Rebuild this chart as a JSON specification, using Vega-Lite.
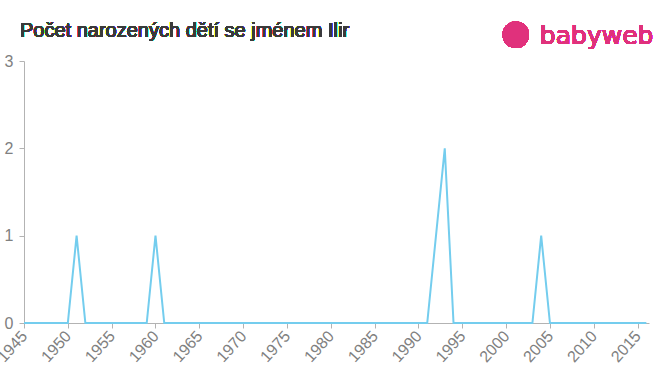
{
  "$schema": "https://vega.github.io/schema/vega-lite/v6.json",
  "autosize": "none",
  "width": 625,
  "height": 262,
  "padding": {"left": 24, "top": 61, "right": 11, "bottom": 52},
  "background": "white",
  "config": {
    "font": "Liberation Sans",
    "view": {"stroke": null},
    "axis": {"grid": false, "domainColor": "#b3b3b3", "tickColor": "#b3b3b3", "labelColor": "#808080", "labelFont": "Liberation Sans"}
  },
  "data": {"values": [
    {"rok": 1945, "pocet": 0}, {"rok": 1946, "pocet": 0}, {"rok": 1947, "pocet": 0}, {"rok": 1948, "pocet": 0},
    {"rok": 1949, "pocet": 0}, {"rok": 1950, "pocet": 0}, {"rok": 1951, "pocet": 1}, {"rok": 1952, "pocet": 0},
    {"rok": 1953, "pocet": 0}, {"rok": 1954, "pocet": 0}, {"rok": 1955, "pocet": 0}, {"rok": 1956, "pocet": 0},
    {"rok": 1957, "pocet": 0}, {"rok": 1958, "pocet": 0}, {"rok": 1959, "pocet": 0}, {"rok": 1960, "pocet": 1},
    {"rok": 1961, "pocet": 0}, {"rok": 1962, "pocet": 0}, {"rok": 1963, "pocet": 0}, {"rok": 1964, "pocet": 0},
    {"rok": 1965, "pocet": 0}, {"rok": 1966, "pocet": 0}, {"rok": 1967, "pocet": 0}, {"rok": 1968, "pocet": 0},
    {"rok": 1969, "pocet": 0}, {"rok": 1970, "pocet": 0}, {"rok": 1971, "pocet": 0}, {"rok": 1972, "pocet": 0},
    {"rok": 1973, "pocet": 0}, {"rok": 1974, "pocet": 0}, {"rok": 1975, "pocet": 0}, {"rok": 1976, "pocet": 0},
    {"rok": 1977, "pocet": 0}, {"rok": 1978, "pocet": 0}, {"rok": 1979, "pocet": 0}, {"rok": 1980, "pocet": 0},
    {"rok": 1981, "pocet": 0}, {"rok": 1982, "pocet": 0}, {"rok": 1983, "pocet": 0}, {"rok": 1984, "pocet": 0},
    {"rok": 1985, "pocet": 0}, {"rok": 1986, "pocet": 0}, {"rok": 1987, "pocet": 0}, {"rok": 1988, "pocet": 0},
    {"rok": 1989, "pocet": 0}, {"rok": 1990, "pocet": 0}, {"rok": 1991, "pocet": 0}, {"rok": 1992, "pocet": 1},
    {"rok": 1993, "pocet": 2}, {"rok": 1994, "pocet": 0}, {"rok": 1995, "pocet": 0}, {"rok": 1996, "pocet": 0},
    {"rok": 1997, "pocet": 0}, {"rok": 1998, "pocet": 0}, {"rok": 1999, "pocet": 0}, {"rok": 2000, "pocet": 0},
    {"rok": 2001, "pocet": 0}, {"rok": 2002, "pocet": 0}, {"rok": 2003, "pocet": 0}, {"rok": 2004, "pocet": 1},
    {"rok": 2005, "pocet": 0}, {"rok": 2006, "pocet": 0}, {"rok": 2007, "pocet": 0}, {"rok": 2008, "pocet": 0},
    {"rok": 2009, "pocet": 0}, {"rok": 2010, "pocet": 0}, {"rok": 2011, "pocet": 0}, {"rok": 2012, "pocet": 0},
    {"rok": 2013, "pocet": 0}, {"rok": 2014, "pocet": 0}, {"rok": 2015, "pocet": 0}, {"rok": 2016, "pocet": 0}
  ]},
  "layer": [
    {
      "mark": {"type": "line", "color": "#74cdee", "strokeWidth": 2, "clip": false},
      "encoding": {
        "x": {
          "field": "rok", "type": "quantitative",
          "scale": {"domain": [1945, 2016.3], "nice": false, "zero": false},
          "axis": {
            "title": null,
            "values": [1945, 1950, 1955, 1960, 1965, 1970, 1975, 1980, 1985, 1990, 1995, 2000, 2005, 2010, 2015],
            "format": "d",
            "labelAngle": -48,
            "labelAlign": "right",
            "labelBaseline": "middle",
            "labelFontSize": 16,
            "labelOverlap": false,
            "labelBound": false,
            "labelPadding": 5,
            "tickSize": 5
          }
        },
        "y": {
          "field": "pocet", "type": "quantitative",
          "scale": {"domain": [0, 3], "nice": false},
          "axis": {
            "title": null,
            "values": [0, 1, 2, 3],
            "format": "d",
            "labelFontSize": 16,
            "tickSize": 5,
            "labelPadding": 6
          }
        }
      }
    },
    {
      "mark": {"type": "text", "text": "Počet narozených dětí se jménem Ilir", "color": "#3a3a3a", "fontSize": 20, "align": "left", "baseline": "alphabetic", "dx": -4, "font": "Liberation Sans"},
      "encoding": {
        "x": {"datum": 1945, "type": "quantitative"},
        "y": {"datum": 3.27, "type": "quantitative"}
      }
    },
    {
      "mark": {"type": "point", "filled": true, "color": "#e0317c", "size": 700, "opacity": 1},
      "encoding": {
        "x": {"datum": 2001.1, "type": "quantitative"},
        "y": {"datum": 3.3, "type": "quantitative"}
      }
    },
    {
      "mark": {"type": "text", "text": "babyweb", "color": "#e0317c", "fontSize": 25, "align": "left", "baseline": "middle", "font": "DejaVu Sans"},
      "encoding": {
        "x": {"datum": 2003.85, "type": "quantitative"},
        "y": {"datum": 3.29, "type": "quantitative"}
      }
    }
  ]
}
